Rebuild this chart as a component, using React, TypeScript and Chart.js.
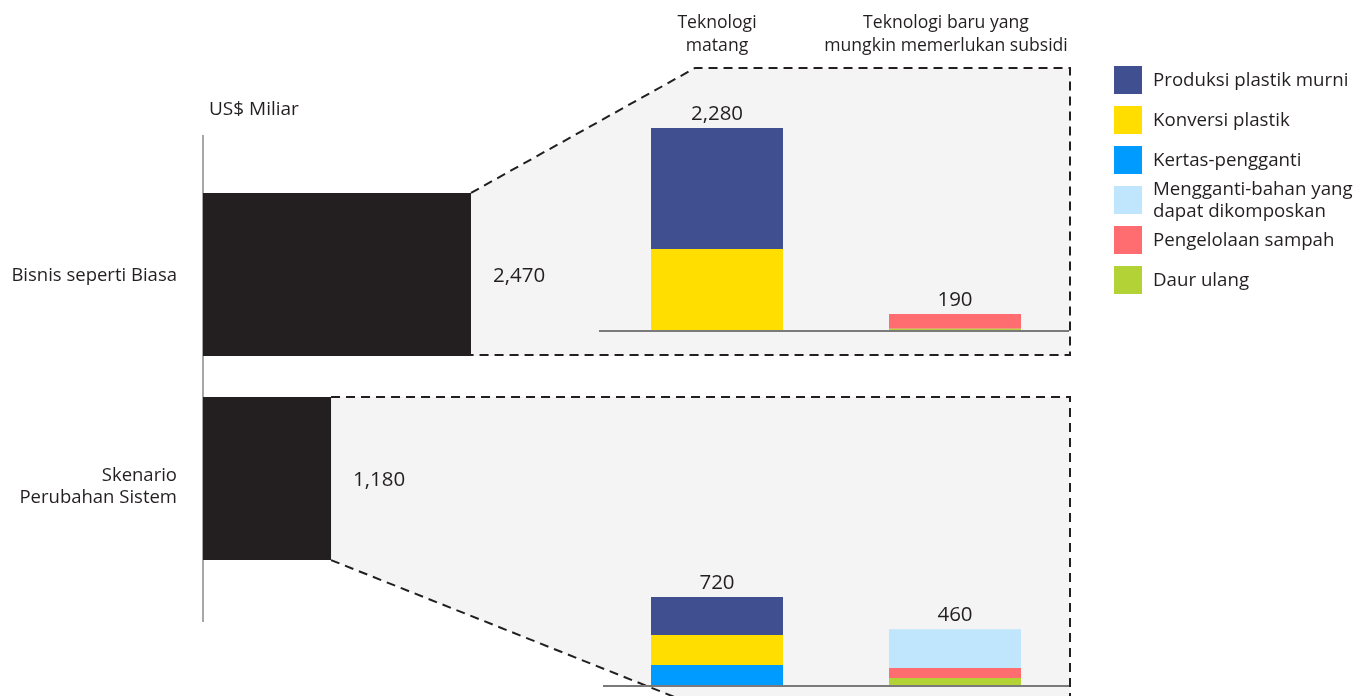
import React, { useEffect, useRef } from 'react';
import { Chart, registerables } from 'chart.js';

Chart.register(...registerables);

// ---------- data ----------
const unitLabel = 'US$ Miliar';
const scenarioLabels = [['Bisnis seperti Biasa'], ['Skenario', 'Perubahan Sistem']];
const scenarioTotals = [2470, 1180];
const techLabels = [['Teknologi', 'matang'], ['Teknologi baru yang', 'mungkin memerlukan subsidi']];

const seriesLabels = [
  ['Produksi plastik murni'],
  ['Konversi plastik'],
  ['Kertas-pengganti'],
  ['Mengganti-bahan yang', 'dapat dikomposkan'],
  ['Pengelolaan sampah'],
  ['Daur ulang'],
];
const seriesColors = ['#3f4f8f', '#ffde00', '#009bff', '#bfe6fd', '#ff6d70', '#b2d235'];

// Bisnis seperti Biasa: [Teknologi matang, Teknologi baru]
const bauProduksi = [1360, 0];
const bauKonversi = [920, 0];
const bauKertas = [0, 0];
const bauMengganti = [0, 0];
const bauPengelolaan = [0, 165];
const bauDaurUlang = [0, 25];
const bauTotals = [2280, 190];

// Skenario Perubahan Sistem: [Teknologi matang, Teknologi baru]
const sptProduksi = [307, 0];
const sptKonversi = [243, 0];
const sptKertas = [170, 0];
const sptMengganti = [0, 315];
const sptPengelolaan = [0, 80];
const sptDaurUlang = [0, 65];
const sptTotals = [720, 460];

// stacking order, bottom to top (indices into seriesLabels)
const stackOrder = [2, 1, 0, 5, 4, 3];

// ---------- style ----------
const FONT = '"Open Sans", sans-serif';
const TEXT = '#231f20';
const BLACK = '#231f20';
const PANEL = '#f4f4f4';
const W = 1366;
const H = 696;

const fmt = (v: number) => v.toLocaleString('en-US');

function drawText(ctx: CanvasRenderingContext2D, lines: string[], x: number, y: number, align: CanvasTextAlign, size: number, lh: number) {
  ctx.save();
  ctx.font = `${size}px ${FONT}`;
  ctx.fillStyle = TEXT;
  ctx.textAlign = align;
  ctx.textBaseline = 'middle';
  const y0 = y - ((lines.length - 1) * lh) / 2;
  lines.forEach((l, i) => ctx.fillText(l, x, y0 + i * lh));
  ctx.restore();
}

const PANEL_RIGHT = 1070;
const PANEL_TOP = 68;
const PANEL_TOP_LEFT_X = 695;
const SLANT_X = 672;
const SLANT_Y = 696;

const leftPlugin = {
  id: 'leftDecor',
  beforeDatasetsDraw(chart: any) {
    const ctx = chart.ctx as CanvasRenderingContext2D;
    const bars = chart.getDatasetMeta(0).data as any[];
    const b0 = bars[0].getProps(['x', 'y', 'base', 'height'], true);
    const b1 = bars[1].getProps(['x', 'y', 'base', 'height'], true);
    const t0 = b0.y - b0.height / 2, d0 = b0.y + b0.height / 2;
    const t1 = b1.y - b1.height / 2, d1 = b1.y + b1.height / 2;
    const extY = H + 20;
    const extX = b1.x + ((extY - d1) * (SLANT_X - b1.x)) / (SLANT_Y - d1);
    ctx.save();
    ctx.fillStyle = PANEL;
    ctx.beginPath();
    ctx.moveTo(b0.x, t0);
    ctx.lineTo(PANEL_TOP_LEFT_X, PANEL_TOP);
    ctx.lineTo(PANEL_RIGHT, PANEL_TOP);
    ctx.lineTo(PANEL_RIGHT, d0);
    ctx.lineTo(b0.x, d0);
    ctx.closePath();
    ctx.fill();
    ctx.beginPath();
    ctx.moveTo(b1.x, t1);
    ctx.lineTo(PANEL_RIGHT, t1);
    ctx.lineTo(PANEL_RIGHT, extY);
    ctx.lineTo(extX, extY);
    ctx.lineTo(b1.x, d1);
    ctx.closePath();
    ctx.fill();

    // vertical axis line
    const left = chart.chartArea.left;
    ctx.strokeStyle = '#8a8a8a';
    ctx.lineWidth = 1.5;
    ctx.beginPath();
    ctx.moveTo(left, 135);
    ctx.lineTo(left, 622);
    ctx.stroke();

    // dashed frames
    ctx.strokeStyle = BLACK;
    ctx.lineWidth = 2;
    ctx.setLineDash([9, 6]);
    ctx.beginPath();
    ctx.moveTo(b0.x, t0);
    ctx.lineTo(PANEL_TOP_LEFT_X, PANEL_TOP);
    ctx.lineTo(PANEL_RIGHT, PANEL_TOP);
    ctx.lineTo(PANEL_RIGHT, d0 - 1);
    ctx.lineTo(b0.x, d0 - 1);
    ctx.stroke();
    ctx.beginPath();
    ctx.moveTo(b1.x, t1);
    ctx.lineTo(PANEL_RIGHT, t1);
    ctx.lineTo(PANEL_RIGHT, extY);
    ctx.stroke();
    ctx.beginPath();
    ctx.moveTo(b1.x, d1);
    ctx.lineTo(extX, extY);
    ctx.stroke();
    ctx.restore();
  },
  afterDatasetsDraw(chart: any) {
    const ctx = chart.ctx as CanvasRenderingContext2D;
    const bars = chart.getDatasetMeta(0).data as any[];
    const left = chart.chartArea.left;
    drawText(ctx, [unitLabel], left + 6, 110, 'left', 19, 22);
    bars.forEach((b: any, i: number) => {
      const p = b.getProps(['x', 'y'], true);
      const lines = scenarioLabels[i];
      drawText(ctx, lines, left - 26, p.y + 1 + (lines.length - 1) * 7.5, 'right', 18.5, 22);
      drawText(ctx, [fmt(scenarioTotals[i])], p.x + 22, p.y + 2, 'left', 20.5, 22);
    });
    // legend
    ctx.save();
    seriesLabels.forEach((lines, i) => {
      const y = 66 + i * 40;
      ctx.fillStyle = seriesColors[i];
      ctx.fillRect(1114, y, 28, 28);
      drawText(ctx, lines, 1153, y + 15, 'left', 18.7, 22);
    });
    ctx.restore();
  },
};

function makeStackPlugin(totals: number[], baseY: number, baseLeft: number, showCats: boolean) {
  return {
    id: 'stackDecor' + baseY,
    afterDatasetsDraw(chart: any) {
      const ctx = chart.ctx as CanvasRenderingContext2D;
      const xs = chart.scales.x;
      const ys = chart.scales.y;
      const y0 = ys.getPixelForValue(0);
      ctx.save();
      ctx.strokeStyle = '#7a7a7a';
      ctx.lineWidth = 2;
      ctx.beginPath();
      ctx.moveTo(baseLeft, y0);
      ctx.lineTo(PANEL_RIGHT - 1, y0);
      ctx.stroke();
      ctx.restore();
      totals.forEach((t, i) => {
        const x = xs.getPixelForValue(i);
        drawText(ctx, [fmt(t)], x, ys.getPixelForValue(t) - 14, 'center', 20.5, 22);
        if (showCats) drawText(ctx, techLabels[i], x - (i === 1 ? 9 : 0), 34, 'center', 17.6, 23);
      });
    },
  };
}

function makeStackChart(canvas: HTMLCanvasElement, values: number[][], totals: number[], max: number, padTop: number, padBottom: number, baseLeft: number, showCats: boolean) {
  return new Chart(canvas, {
    type: 'bar',
    data: {
      labels: techLabels.map((l) => l.join(' ')),
      datasets: stackOrder.map((si) => ({
        label: seriesLabels[si].join(' '),
        data: values[si],
        backgroundColor: seriesColors[si],
        borderWidth: 0,
        barPercentage: 132 / 238,
        categoryPercentage: 1,
        stack: 's',
      })),
    },
    options: {
      responsive: false,
      animation: false,
      events: [],
      layout: { padding: { left: 598, right: W - 1074, top: padTop, bottom: padBottom } },
      scales: {
        x: { display: false, stacked: true },
        y: { display: false, stacked: true, min: 0, max },
      },
      plugins: { legend: { display: false }, tooltip: { enabled: false } },
    },
    plugins: [makeStackPlugin(totals, padBottom, baseLeft, showCats)],
  } as any);
}

export default function App() {
  const refA = useRef<HTMLCanvasElement>(null);
  const refB = useRef<HTMLCanvasElement>(null);
  const refC = useRef<HTMLCanvasElement>(null);

  useEffect(() => {
    const a = new Chart(refA.current!, {
      type: 'bar',
      data: {
        labels: scenarioLabels.map((l) => l.join(' ')),
        datasets: [
          {
            data: scenarioTotals,
            backgroundColor: BLACK,
            borderWidth: 0,
            barPercentage: 0.8,
            categoryPercentage: 1,
          },
        ],
      },
      options: {
        indexAxis: 'y',
        responsive: false,
        animation: false,
        events: [],
        layout: { padding: { left: 203, right: W - 203 - 542.5, top: 172.5, bottom: H - 580.5 } },
        scales: {
          x: { display: false, min: 0, max: 5000 },
          y: { display: false },
        },
        plugins: { legend: { display: false }, tooltip: { enabled: false } },
      },
      plugins: [leftPlugin],
    } as any);

    const bauValues = [bauProduksi, bauKonversi, bauKertas, bauMengganti, bauPengelolaan, bauDaurUlang];
    const sptValues = [sptProduksi, sptKonversi, sptKertas, sptMengganti, sptPengelolaan, sptDaurUlang];
    const b = makeStackChart(refB.current!, bauValues, bauTotals, 2500, 331 - 2500 * (203 / 2280), H - 331, 599, true);
    const c = makeStackChart(refC.current!, sptValues, sptTotals, 1000, 686 - 1000 * (89 / 720), H - 686, 603, false);
    return () => {
      a.destroy();
      b.destroy();
      c.destroy();
    };
  }, []);

  const cs: React.CSSProperties = { position: 'absolute', left: 0, top: 0, width: W, height: H };
  return (
    <div style={{ position: 'fixed', left: 0, top: 0, width: W, height: H, background: '#ffffff', overflow: 'hidden' }}>
      <canvas ref={refA} width={W} height={H} style={cs} />
      <canvas ref={refB} width={W} height={H} style={cs} />
      <canvas ref={refC} width={W} height={H} style={cs} />
    </div>
  );
}
